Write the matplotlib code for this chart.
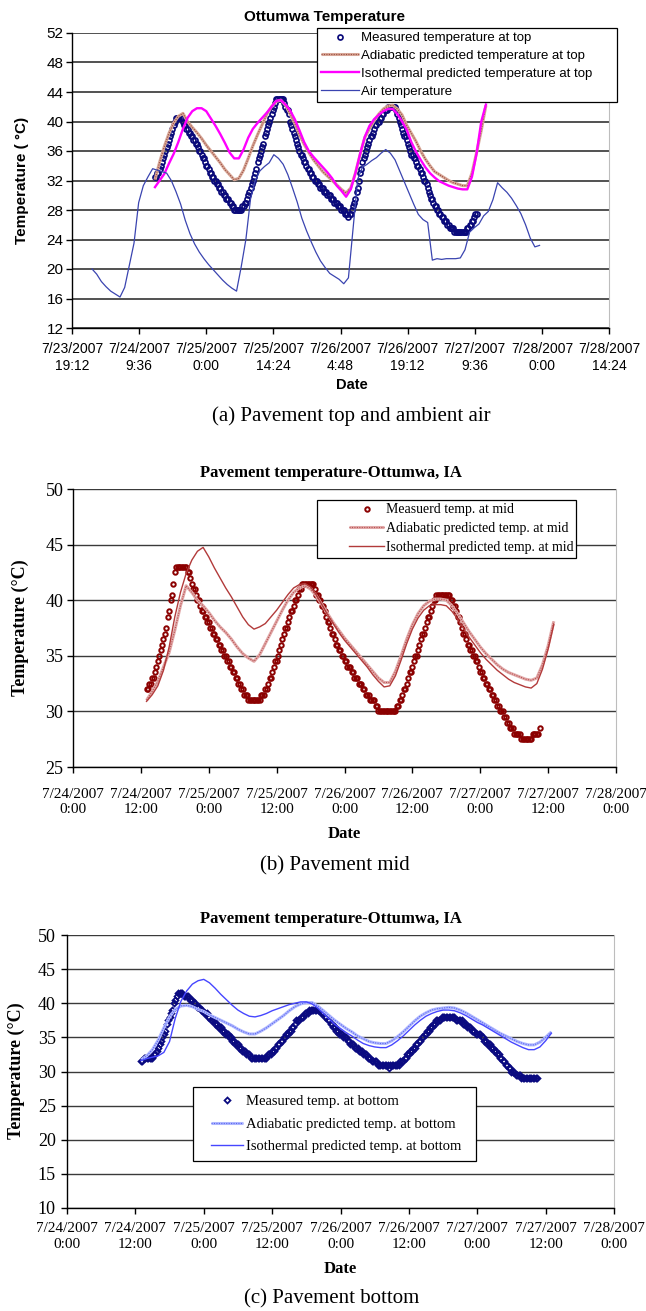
import numpy as np
import matplotlib
matplotlib.use("Agg")
import matplotlib.pyplot as plt
from matplotlib.lines import Line2D
from matplotlib.legend_handler import HandlerLine2D, HandlerTuple

# ---------------------------------------------------------------------------
# Time base: days counted from 7/23/2007 0:00
# ---------------------------------------------------------------------------
QUARTER = 0.25 / 24          # 15-minute logging interval
HOUR = 1.0 / 24
START_PAVEMENT = 1 + 13 / 24  # 7/24/2007 13:00
START_AIR = 23.5 / 24         # 7/23/2007 23:30

# ---------------------------------------------------------------------------
# (a) Pavement top and ambient air
# ---------------------------------------------------------------------------
TOP_TICKS = [0.8, 1.4, 2.0, 2.6, 3.2, 3.8, 4.4, 5.0, 5.6]
TOP_TICK_LABELS = ["7/23/2007\n19:12", "7/24/2007\n9:36", "7/25/2007\n0:00",
                   "7/25/2007\n14:24", "7/26/2007\n4:48", "7/26/2007\n19:12",
                   "7/27/2007\n9:36", "7/28/2007\n0:00", "7/28/2007\n14:24"]
TOP_YTICKS = [12, 16, 20, 24, 28, 32, 36, 40, 44, 48, 52]

# measured at top, every 15 min from 7/24 13:00
top_measured = [
    32.5, 32.5, 33.0, 33.0, 33.5, 34.0, 34.5, 35.0, 35.5, 36.0, 36.5, 37.0,
    37.5, 38.0, 38.5, 39.0, 39.5, 40.0, 40.5, 40.5, 40.5, 40.5, 40.5, 40.5,
    40.0, 39.5, 39.5, 39.0, 39.0, 38.5, 38.5, 38.0, 38.0, 37.5, 37.5, 37.0,
    37.0, 36.5, 36.0, 36.0, 35.5, 35.0, 35.0, 34.5,
    34.0, 34.0, 33.5, 33.0, 33.0, 32.5, 32.5, 32.0, 32.0, 31.5, 31.5, 31.0,
    31.0, 30.5, 30.5, 30.0, 30.0, 29.5, 29.5, 29.5, 29.0, 29.0, 28.5, 28.5,
    28.0, 28.0, 28.0, 28.0, 28.0, 28.0, 28.0, 28.5, 28.5, 29.0, 29.0, 29.5,
    30.0, 30.5, 31.0, 31.5, 32.0, 32.5, 33.0, 33.5, 34.5, 35.0, 35.5, 36.0,
    36.5, 37.0, 38.0, 38.5, 39.0, 39.5, 40.0, 40.5, 41.0, 41.5, 42.0, 42.5,
    43.0, 43.0, 43.0, 43.0, 43.0, 43.0, 43.0, 42.5, 42.0, 41.5, 41.5, 41.0,
    40.0, 39.5, 39.0, 38.5, 38.0, 37.5, 37.0, 36.5, 36.0, 35.5, 35.5, 35.0,
    34.5, 34.5, 34.0, 33.5, 33.5, 33.0, 33.0, 32.5, 32.5, 32.0, 32.0, 32.0,
    31.5, 31.5, 31.0, 31.0, 31.0, 30.5, 30.5, 30.5, 30.0, 30.0, 30.0, 29.5,
    29.5, 29.5, 29.0, 29.0, 29.0, 28.5, 28.5, 28.5, 28.0, 28.0, 28.0, 27.5,
    27.5, 27.5, 27.0, 27.5, 27.5, 28.0, 28.5, 29.0, 29.5, 30.5, 31.0, 32.0,
    33.0, 33.5, 34.5, 35.0, 35.5, 36.0, 36.5, 37.0, 37.5, 38.0, 38.0, 38.5,
    39.0, 39.5, 39.5, 40.0, 40.0, 40.5, 40.5, 41.0, 41.0, 41.5, 41.5, 41.5,
    42.0, 42.0, 42.0, 42.0, 42.0, 42.0, 42.0, 41.5, 41.0, 40.5, 40.0, 39.5,
    39.0, 38.5, 38.0, 38.0, 37.5, 37.0, 36.5, 36.0, 35.5, 35.5, 35.0, 35.0,
    34.5, 34.0, 34.0, 33.5, 33.0, 33.0, 32.5, 32.0, 32.0, 31.5, 31.0, 30.5,
    30.0, 29.5, 29.5, 29.0, 28.5, 28.5, 28.0, 28.0, 27.5, 27.5, 27.0, 27.0,
    26.5, 26.5, 26.5, 26.0, 26.0, 25.5, 25.5, 25.5, 25.5, 25.0, 25.0, 25.0,
    25.0, 25.0, 25.0, 25.0, 25.0, 25.0, 25.0, 25.0, 25.5, 25.5, 26.0, 26.0,
    26.5, 26.5, 27.0, 27.5, 27.5,
]
# hourly predictions at top from 7/24 13:00
top_adiabatic = [
    32.1, 34.5, 36.6, 38.4, 39.8, 40.7, 41.1, 40.0, 39.2, 38.5, 37.7,
    36.8, 36.0, 35.2, 34.4, 33.5, 32.8, 32.1, 32.3, 33.4, 35.0, 36.7, 38.2,
    39.6, 41.0, 42.0, 42.7, 42.9, 42.2, 41.0, 39.7, 38.2, 36.9, 35.8, 34.8,
    34.0, 33.2, 32.6, 32.0, 31.4, 30.8, 30.3, 31.0, 33.0, 35.5, 37.8, 39.0,
    40.1, 41.0, 41.7, 42.1, 42.2, 41.7, 40.9, 39.5, 38.4, 37.3, 36.0, 34.9,
    34.0, 33.2, 32.8, 32.4, 32.0, 31.7, 31.5, 31.3, 31.3, 33.0, 35.8, 38.8,
    42.2,
]
top_isothermal = [
    31.1, 32.0, 32.9, 34.3, 35.6, 37.2, 39.0, 40.5, 41.4, 41.8, 41.8,
    41.4, 40.4, 39.4, 38.3, 37.1, 35.8, 35.0, 35.0, 36.2, 37.8, 39.0, 39.8,
    40.5, 41.2, 42.0, 42.8, 42.9, 42.3, 41.5, 40.3, 38.8, 37.2, 36.0, 35.2,
    34.5, 33.8, 33.1, 32.3, 31.3, 30.6, 29.8, 30.8, 33.0, 35.6, 37.9, 39.4,
    40.3, 40.9, 41.4, 41.7, 41.7, 41.0, 40.0, 38.9, 37.2, 35.9, 34.8, 33.8,
    33.0, 32.4, 31.9, 31.6, 31.3, 31.1, 30.9, 30.8, 30.8, 32.5, 35.7, 40.0,
    42.3,
]
# hourly air temperature from 7/23 23:30
air_temperature = [
    20.0, 19.3, 18.3, 17.6, 17.0, 16.6, 16.2, 17.5, 20.5, 23.5, 29.0, 31.3,
    32.5, 33.6, 33.4, 33.2, 33.0, 32.0, 30.5, 28.8, 26.6, 24.8, 23.4, 22.3,
    21.4, 20.6, 19.9, 19.2, 18.5, 17.9, 17.4, 17.0, 20.3, 24.0, 29.5, 32.0,
    33.3, 33.9, 34.4, 35.5, 35.0, 34.2, 32.8, 31.0, 29.1, 26.9, 25.2, 23.7,
    22.3, 21.1, 20.2, 19.4, 19.0, 18.6, 18.0, 18.8, 25.5, 32.2, 33.8, 34.2,
    34.7, 35.1, 35.7, 36.2, 35.7, 34.8, 33.3, 31.8, 30.3, 28.8, 27.4, 26.7,
    26.3, 21.2, 21.4, 21.3, 21.4, 21.4, 21.4, 21.5, 22.6, 25.0, 25.6, 26.1,
    27.2, 27.8, 29.4, 31.7, 31.0, 30.4, 29.6, 28.6, 27.5, 26.0, 24.2, 23.0,
    23.2,
]
TOP_LABELS = ["Measured temperature at top", "Adiabatic predicted temperature at top",
              "Isothermal predicted temperature at top", "Air temperature"]

# ---------------------------------------------------------------------------
# (b) Pavement mid   /   (c) Pavement bottom
# ---------------------------------------------------------------------------
DAY_TICKS = [1.0, 1.5, 2.0, 2.5, 3.0, 3.5, 4.0, 4.5, 5.0]
DAY_TICK_LABELS = ["7/24/2007\n0:00", "7/24/2007\n12:00", "7/25/2007\n0:00",
                   "7/25/2007\n12:00", "7/26/2007\n0:00", "7/26/2007\n12:00",
                   "7/27/2007\n0:00", "7/27/2007\n12:00", "7/28/2007\n0:00"]
MID_YTICKS = [25, 30, 35, 40, 45, 50]
BOTTOM_YTICKS = [10, 15, 20, 25, 30, 35, 40, 45, 50]

mid_measured = [
    32.0, 32.0, 32.5, 32.5, 33.0, 33.0, 33.5, 34.0, 34.5, 35.0, 35.5, 36.0,
    36.5, 37.0, 37.5, 38.5, 39.0, 40.0, 40.5, 41.5, 42.5, 43.0, 43.0, 43.0,
    43.0, 43.0, 43.0, 43.0, 43.0, 42.5, 42.5, 42.0, 41.5, 41.0, 41.0, 40.5,
    40.0, 40.0, 39.5, 39.0, 39.0, 38.5, 38.5, 38.0,
    38.0, 37.5, 37.5, 37.0, 37.0, 36.5, 36.5, 36.0, 36.0, 35.5, 35.5, 35.0,
    35.0, 34.5, 34.5, 34.0, 34.0, 33.5, 33.5, 33.0, 33.0, 32.5, 32.5, 32.0,
    32.0, 31.5, 31.5, 31.5, 31.0, 31.0, 31.0, 31.0, 31.0, 31.0, 31.0, 31.0,
    31.0, 31.5, 31.5, 31.5, 32.0, 32.0, 32.5, 33.0, 33.0, 33.5, 34.0, 34.5,
    34.5, 35.0, 35.5, 36.0, 36.5, 37.0, 37.5, 37.5, 38.0, 38.5, 39.0, 39.0,
    39.5, 40.0, 40.0, 40.5, 41.0, 41.0, 41.5, 41.5, 41.5, 41.5, 41.5, 41.5,
    41.5, 41.5, 41.5, 41.0, 40.5, 40.5, 40.0, 40.0, 39.5, 39.5, 39.0, 38.5,
    38.0, 38.0, 37.5, 37.0, 37.0, 36.5, 36.0, 36.0, 35.5, 35.5, 35.0, 35.0,
    34.5, 34.5, 34.0, 34.0, 34.0, 33.5, 33.5, 33.0, 33.0, 33.0, 32.5, 32.5,
    32.5, 32.0, 32.0, 31.5, 31.5, 31.5, 31.0, 31.0, 31.0, 31.0, 30.5, 30.5,
    30.0, 30.0, 30.0, 30.0, 30.0, 30.0, 30.0, 30.0, 30.0, 30.0, 30.0, 30.0,
    30.0, 30.5, 30.5, 31.0, 31.0, 31.5, 32.0, 32.0, 32.5, 33.0, 33.5, 33.5,
    34.0, 34.5, 35.0, 35.0, 35.5, 36.0, 36.5, 37.0, 37.0, 37.5, 38.0, 38.5,
    38.5, 39.0, 39.5, 40.0, 40.0, 40.5, 40.5, 40.5, 40.5, 40.5, 40.5, 40.5,
    40.5, 40.5, 40.5, 40.0, 40.0, 39.5, 39.5, 39.0, 38.5, 38.5, 38.0, 37.5,
    37.0, 37.0, 36.5, 36.0, 36.0, 35.5, 35.5, 35.0, 35.0, 34.5, 34.5, 34.0,
    33.5, 33.5, 33.0, 33.0, 32.5, 32.5, 32.0, 32.0, 31.5, 31.5, 31.0, 31.0,
    30.5, 30.5, 30.0, 30.0, 30.0, 29.5, 29.5, 29.0, 29.0, 28.5, 28.5, 28.5,
    28.0, 28.0, 28.0, 28.0, 28.0, 27.5, 27.5, 27.5, 27.5, 27.5, 27.5, 27.5,
    27.5, 28.0, 28.0, 28.0, 28.0, 28.0, 28.5,
]
mid_adiabatic = [
    31.0, 31.8, 32.7, 34.0, 35.3, 37.3, 39.5, 41.3, 40.7, 40.0, 39.5,
    38.9, 38.2, 37.6, 37.1, 36.5, 35.8, 35.2, 34.8, 34.5, 35.1, 36.1, 37.1,
    38.1, 39.1, 40.0, 40.7, 41.1, 41.3, 41.0, 40.4, 39.6, 38.8, 38.0, 37.3,
    36.6, 36.0, 35.4, 34.8, 34.2, 33.6, 33.0, 32.6, 32.6, 33.6, 35.0, 36.5,
    37.8, 38.8, 39.5, 39.9, 40.1, 40.1, 40.0, 39.5, 38.8, 38.0, 37.2, 36.5,
    35.8, 35.2, 34.7, 34.2, 33.8, 33.5, 33.3, 33.1, 32.9, 32.8, 33.0, 34.2,
    35.9, 38.1,
]
mid_isothermal = [
    30.9, 31.5, 32.3, 33.7, 35.8, 38.5, 40.7, 42.4, 43.6, 44.4, 44.75,
    43.9, 42.9, 42.0, 41.1, 40.3, 39.4, 38.5, 37.8, 37.4, 37.6, 37.9, 38.5,
    39.1, 39.8, 40.5, 41.1, 41.4, 41.5, 41.2, 40.5, 39.6, 38.7, 37.9, 37.1,
    36.4, 35.8, 35.2, 34.6, 34.0, 33.3, 32.7, 32.2, 32.3, 33.2, 34.6, 36.1,
    37.4, 38.4, 39.1, 39.5, 39.6, 39.6, 39.5, 39.0, 38.3, 37.5, 36.7, 36.0,
    35.3, 34.7, 34.2, 33.7, 33.3, 32.9, 32.6, 32.4, 32.2, 32.1, 32.5, 33.8,
    35.6, 37.8,
]
MID_LABELS = ["Measuerd temp. at mid", "Adiabatic predicted temp. at mid",
              "Isothermal predicted temp. at mid"]

bottom_measured = [
    31.5, 31.5, 32.0, 32.0, 32.0, 32.0, 32.0, 32.0, 32.0, 32.5, 32.5, 33.0,
    33.5, 34.0, 34.5, 35.0, 35.5, 36.0, 37.0, 37.5, 38.0, 38.5, 39.0, 40.0,
    40.5, 41.0, 41.5, 41.5, 41.5, 41.5, 41.0, 41.0, 41.0, 41.0, 40.5, 40.5,
    40.5, 40.0, 40.0, 39.5, 39.5, 39.5, 39.0, 39.0,
    38.5, 38.5, 38.5, 38.0, 38.0, 37.5, 37.5, 37.5, 37.0, 37.0, 36.5, 36.5,
    36.5, 36.0, 36.0, 35.5, 35.5, 35.5, 35.0, 35.0, 34.5, 34.5, 34.0, 34.0,
    34.0, 33.5, 33.5, 33.0, 33.0, 33.0, 32.5, 32.5, 32.5, 32.0, 32.0, 32.0,
    32.0, 32.0, 32.0, 32.0, 32.0, 32.0, 32.0, 32.0, 32.0, 32.5, 32.5, 32.5,
    33.0, 33.0, 33.5, 33.5, 34.0, 34.0, 34.5, 34.5, 35.0, 35.0, 35.5, 35.5,
    36.0, 36.0, 36.5, 36.5, 37.0, 37.5, 37.5, 37.5, 38.0, 38.0, 38.0, 38.5,
    38.5, 38.5, 39.0, 39.0, 39.0, 39.0, 39.0, 39.0, 39.0, 39.0, 38.5, 38.5,
    38.5, 38.0, 38.0, 37.5, 37.5, 37.0, 37.0, 36.5, 36.5, 36.0, 36.0, 35.5,
    35.5, 35.5, 35.0, 35.0, 35.0, 34.5, 34.5, 34.0, 34.0, 34.0, 33.5, 33.5,
    33.5, 33.0, 33.0, 33.0, 32.5, 32.5, 32.5, 32.0, 32.0, 32.0, 31.5, 31.5,
    31.5, 31.5, 31.0, 31.0, 31.0, 31.0, 31.0, 31.0, 31.0, 31.0, 30.5, 31.0,
    31.0, 31.0, 31.0, 31.0, 31.0, 31.0, 31.5, 31.5, 31.5, 32.0, 32.0, 32.5,
    32.5, 33.0, 33.0, 33.5, 33.5, 34.0, 34.0, 34.5, 34.5, 35.0, 35.0, 35.5,
    35.5, 36.0, 36.0, 36.5, 36.5, 37.0, 37.0, 37.5, 37.5, 37.5, 37.5, 38.0,
    38.0, 38.0, 38.0, 38.0, 38.0, 38.0, 38.0, 38.0, 38.0, 37.5, 37.5, 37.5,
    37.5, 37.5, 37.0, 37.0, 37.0, 36.5, 36.5, 36.5, 36.0, 36.0, 36.0, 35.5,
    35.5, 35.5, 35.5, 35.0, 35.0, 34.5, 34.5, 34.0, 34.0, 34.0, 33.5, 33.5,
    33.0, 33.0, 32.5, 32.5, 32.0, 32.0, 31.5, 31.5, 31.0, 31.0, 30.5, 30.5,
    30.0, 30.0, 30.0, 29.5, 29.5, 29.5, 29.5, 29.0, 29.0, 29.0, 29.0, 29.0,
    29.0, 29.0, 29.0, 29.0, 29.0, 29.0, 29.0,
]
bottom_adiabatic = [
    31.7, 32.3, 33.2, 34.6, 36.4, 38.0, 39.1, 39.6, 39.7, 39.5, 39.1,
    38.8, 38.3, 37.9, 37.5, 37.1, 36.7, 36.2, 35.8, 35.5, 35.5, 35.9, 36.4,
    37.0, 37.6, 38.2, 38.9, 39.5, 39.9, 40.1, 40.1, 39.6, 38.9, 38.2, 37.5,
    36.9, 36.3, 35.8, 35.2, 34.8, 34.4, 34.2, 34.1, 34.1, 34.5, 35.1, 35.8,
    36.6, 37.4, 38.1, 38.6, 39.0, 39.2, 39.3, 39.4, 39.3, 39.0, 38.6, 38.1,
    37.6, 37.1, 36.6, 36.1, 35.6, 35.2, 34.8, 34.4, 34.1, 33.9, 33.9, 34.3,
    35.0, 35.8,
]
bottom_isothermal = [
    31.6, 31.9, 32.1, 32.3, 32.8, 34.4, 37.8, 40.3, 41.8, 42.8, 43.3,
    43.5, 43.0, 42.2, 41.3, 40.5, 39.7, 39.0, 38.5, 38.1, 38.0, 38.2, 38.5,
    38.9, 39.2, 39.5, 39.8, 40.0, 40.2, 40.2, 39.9, 39.3, 38.5, 37.7, 36.9,
    36.3, 35.7, 35.2, 34.6, 34.1, 33.8, 33.6, 33.5, 33.5, 33.9, 34.5, 35.2,
    36.0, 36.8, 37.5, 38.1, 38.5, 38.8, 39.0, 39.0, 38.9, 38.6, 38.2, 37.7,
    37.2, 36.8, 36.3, 35.8, 35.3, 34.8, 34.3, 33.9, 33.5, 33.2, 33.2, 33.6,
    34.5, 35.6,
]
BOTTOM_LABELS = ["Measured temp. at bottom", "Adiabatic predicted temp. at bottom",
                 "Isothermal predicted temp. at bottom"]


def times(start, step, values):
    return start + np.arange(len(values)) * step


# ---------------------------------------------------------------------------
# Figure scaffolding (positions given in pixels of a 646 x 1311 canvas)
# ---------------------------------------------------------------------------
W, H = 646, 1311
SANS = ["Liberation Sans", "DejaVu Sans"]
SERIF = ["Liberation Serif", "DejaVu Serif"]

fig = plt.figure(figsize=(W / 100, H / 100), dpi=100)


def px_axes(l, t, r, b):
    return fig.add_axes([l / W, 1 - b / H, (r - l) / W, (b - t) / H])


def ftext(x, y, s, **kw):
    fig.text(x / W, 1 - y / H, s, ha="center", va="center", **kw)


def style_axes(ax, family, xlim, ylim, xticks, xlabels, yticks,
               xsize, ysize, spacing, xpad, ypad, grid_color, grid_lw):
    ax.set_xlim(*xlim)
    ax.set_ylim(*ylim)
    ax.set_xticks(xticks)
    ax.set_xticklabels(xlabels, family=family, fontsize=xsize, linespacing=spacing)
    ax.set_yticks(yticks)
    ax.set_yticklabels([str(v) for v in yticks], family=family, fontsize=ysize)
    ax.yaxis.grid(True, color=grid_color, lw=grid_lw)
    ax.set_axisbelow(True)
    ax.spines["top"].set_visible(False)
    ax.spines["right"].set_color("#bdbdbd")
    ax.spines["left"].set_linewidth(1.0)
    ax.spines["bottom"].set_linewidth(1.0)
    ax.tick_params(axis="x", direction="out", length=4, width=1, pad=xpad)
    ax.tick_params(axis="y", direction="out", length=4, width=1, pad=ypad)


class InsetLine(HandlerLine2D):
    """Legend line that only occupies the right part of the handle box."""

    def __init__(self, start=0.0, **kw):
        super().__init__(**kw)
        self.start = start

    def get_xdata(self, legend, xdescent, ydescent, width, height, fontsize):
        x0 = -xdescent + width * self.start
        x1 = -xdescent + width
        return np.array([x0, x1]), np.array([(x0 + x1) / 2])


def boxed_legend(ax, handles, labels, l, t, r, family, size, start,
                 handlelength, labelspacing, borderpad):
    leg = ax.legend(handles, labels, loc="upper left",
                    bbox_to_anchor=(l / W, 1 - t / H, (r - l) / W, 0),
                    bbox_transform=fig.transFigure, mode="expand",
                    borderaxespad=0, numpoints=1, fancybox=False,
                    framealpha=1, edgecolor="black",
                    prop={"family": family, "size": size},
                    handlelength=handlelength, handletextpad=0.15,
                    labelspacing=labelspacing, borderpad=borderpad,
                    handler_map={Line2D: InsetLine(start),
                                 tuple: HandlerTuple(ndivide=1)})
    leg.get_frame().set_linewidth(0.9)
    return leg


def textured(ax, x, y, base, dots, lw=2.2):
    a, = ax.plot(x, y, color=base, lw=lw, solid_capstyle="butt")
    b, = ax.plot(x, y, color=dots, lw=0.8, ls=(0, (1.0, 1.2)))
    return (a, b)


# ---------------------------------------------------------------------------
# (a) top of pavement and ambient air
# ---------------------------------------------------------------------------
ax1 = px_axes(72, 33, 609, 328)
style_axes(ax1, SANS, (0.8, 5.6), (12, 52), TOP_TICKS, TOP_TICK_LABELS,
           TOP_YTICKS, 10, 11, 1.25, 6, 2, "#333333", 1.2)

h_meas, = ax1.plot(times(START_PAVEMENT, QUARTER, top_measured), top_measured,
                   ls="none", marker="o", ms=3.6, mew=1.25, mfc="none",
                   mec="#0a0a7a")
h_adia = textured(ax1, times(START_PAVEMENT, HOUR, top_adiabatic), top_adiabatic,
                  "#d8a898", "#9a4c40")
h_iso, = ax1.plot(times(START_PAVEMENT, HOUR, top_isothermal), top_isothermal,
                  color="#ff00ff", lw=1.7)
h_air, = ax1.plot(times(START_AIR, HOUR, air_temperature), air_temperature,
                  color="#3a44b0", lw=0.9)
boxed_legend(ax1, [h_meas, h_adia, h_iso, h_air], TOP_LABELS, 317, 28, 617,
             SANS, 9.5, 0.0, 2.9, 0.43, 0.3)

ftext(325, 17, "Ottumwa Temperature", family=SANS, weight="bold", fontsize=11)
ftext(22, 180, "Temperature ( \u00b0C)", family=SANS, weight="bold",
      fontsize=11, rotation=90)
ftext(352, 385, "Date", family=SANS, weight="bold", fontsize=10.5)
ftext(351, 416, "(a) Pavement top and ambient air", family=SERIF, fontsize=15)

# ---------------------------------------------------------------------------
# (b) middle of pavement
# ---------------------------------------------------------------------------
ax2 = px_axes(73, 489, 616, 767)
style_axes(ax2, SERIF, (1.0, 5.0), (25, 50), DAY_TICKS, DAY_TICK_LABELS,
           MID_YTICKS, 11, 13, 1.2, 11, 3, "#3a3a3a", 1.0)

m_meas, = ax2.plot(times(START_PAVEMENT, QUARTER, mid_measured), mid_measured,
                   ls="none", marker="o", ms=3.2, mew=1.4, mfc="none",
                   mec="#8b0000")
m_adia = textured(ax2, times(START_PAVEMENT, HOUR, mid_adiabatic), mid_adiabatic,
                  "#e2aaaa", "#b85252")
m_iso, = ax2.plot(times(START_PAVEMENT, HOUR, mid_isothermal), mid_isothermal,
                  color="#b23a3a", lw=1.0)
boxed_legend(ax2, [m_meas, m_adia, m_iso], MID_LABELS, 317, 500, 576,
             SERIF, 10, 0.45, 4.6, 0.42, 0.25)

ftext(331, 473, "Pavement temperature-Ottumwa, IA", family=SERIF,
      weight="bold", fontsize=12)
ftext(20, 628, "Temperature (\u00b0C)", family=SERIF, weight="bold",
      fontsize=13, rotation=90)
ftext(344, 834, "Date", family=SERIF, weight="bold", fontsize=12)
ftext(335, 866, "(b) Pavement mid", family=SERIF, fontsize=15)

# ---------------------------------------------------------------------------
# (c) bottom of pavement
# ---------------------------------------------------------------------------
ax3 = px_axes(67, 935, 614, 1208)
style_axes(ax3, SERIF, (1.0, 5.0), (10, 50), DAY_TICKS, DAY_TICK_LABELS,
           BOTTOM_YTICKS, 11, 13, 1.35, 6, 4, "#3a3a3a", 1.0)

b_meas, = ax3.plot(times(START_PAVEMENT, QUARTER, bottom_measured), bottom_measured,
                   ls="none", marker="D", ms=3.0, mew=1.3, mfc="none",
                   mec="#0a0a80")
b_adia = textured(ax3, times(START_PAVEMENT, HOUR, bottom_adiabatic), bottom_adiabatic,
                  "#b0b8ff", "#5a66f0")
b_iso, = ax3.plot(times(START_PAVEMENT, HOUR, bottom_isothermal), bottom_isothermal,
                  color="#4646ff", lw=1.0)
boxed_legend(ax3, [b_meas, b_adia, b_iso], BOTTOM_LABELS, 193, 1087, 476,
             SERIF, 10.5, 0.24, 2.9, 0.64, 0.55)

ftext(331, 919, "Pavement temperature-Ottumwa, IA", family=SERIF,
      weight="bold", fontsize=12)
ftext(16, 1071, "Temperature (\u00b0C)", family=SERIF, weight="bold",
      fontsize=13, rotation=90)
ftext(340, 1269, "Date", family=SERIF, weight="bold", fontsize=12)
ftext(332, 1299, "(c) Pavement bottom", family=SERIF, fontsize=15)

fig.savefig("out.png", dpi=100, facecolor="white")
